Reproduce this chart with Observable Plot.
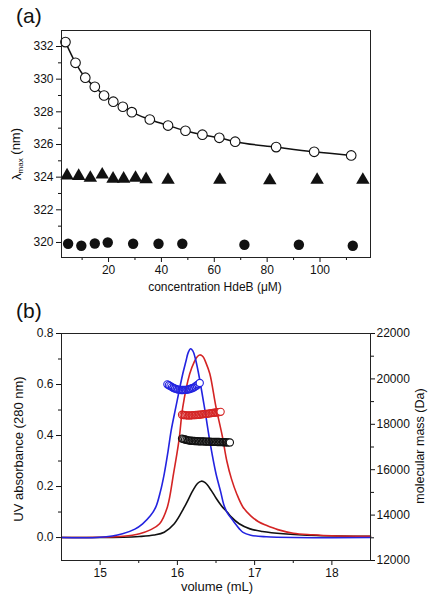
<!DOCTYPE html>
<html><head><meta charset="utf-8">
<script src="https://cdn.jsdelivr.net/npm/d3@7"></script>
<script src="https://cdn.jsdelivr.net/npm/@observablehq/plot@0.6"></script>
<style>
body{margin:0;background:#fff;font-family:"Liberation Sans",Arial,sans-serif;}
#wrap{position:relative;width:435px;height:600px;overflow:hidden;}
.panel{position:absolute;left:0;}
.tag{position:absolute;font-size:21px;line-height:1;color:#111;z-index:2;}
</style></head><body>
<div id="wrap">
<div class="panel" id="pa" style="top:0"></div>
<div class="panel" id="pb" style="top:300px"></div>
<div class="tag" style="left:16px;top:5px">(a)</div>
<div class="tag" style="left:16px;top:300px">(b)</div>
</div>
<script>
// ---------- Panel (a) data ----------
const concOpen = [3.7, 7.5, 11.2, 14.8, 18.3, 21.8, 25.4, 28.8, 35.6, 42.5, 49.1, 55.5, 61.9, 67.9, 83.4, 97.8, 111.8];
const lamOpen  = [332.27, 331.0, 330.09, 329.53, 329.0, 328.62, 328.31, 327.98, 327.53, 327.16, 326.84, 326.6, 326.41, 326.17, 325.84, 325.55, 325.33];
const concTri  = [4.3, 8.7, 13.1, 17.6, 21.7, 25.7, 30.2, 34.2, 42.5, 62.1, 81.0, 98.9, 116.2];
const lamTri   = [324.1, 324.07, 323.95, 324.15, 323.9, 323.9, 323.95, 323.87, 323.83, 323.83, 323.8, 323.83, 323.83];
const concFill = [4.7, 9.7, 14.8, 19.7, 29.3, 38.9, 47.9, 71.4, 92.0, 112.4];
const lamFill  = [319.92, 319.8, 319.94, 320.0, 319.92, 319.92, 319.92, 319.86, 319.86, 319.8];
const xTicksA = [20, 40, 60, 80, 100];
const xMinorA = [10, 30, 50, 70, 90, 110];
const yTicksA = [320, 322, 324, 326, 328, 330, 332];
const yMinorA = [321, 323, 325, 327, 329, 331];

// ---------- Panel (b) data ----------
const volBlue = [14.5, 15.0, 15.29, 15.45, 15.55, 15.65, 15.72, 15.78, 15.83, 15.88, 15.92, 15.98, 16.07, 16.11, 16.14, 16.17, 16.20, 16.23, 16.27, 16.35, 16.43, 16.50, 16.56, 16.60, 16.65, 16.70, 16.74, 16.80, 16.85, 16.95, 17.15, 17.5, 18.5];
const absBlue = [0.0, 0.001, 0.015, 0.033, 0.054, 0.085, 0.119, 0.18, 0.25, 0.34, 0.42, 0.511, 0.642, 0.69, 0.725, 0.74, 0.732, 0.705, 0.65, 0.511, 0.36, 0.25, 0.18, 0.13, 0.095, 0.075, 0.058, 0.035, 0.02, 0.009, 0.003, 0.0, 0.0];
const volRed = [14.5, 15.0, 15.30, 15.51, 15.65, 15.77, 15.87, 15.95, 16.02, 16.07, 16.16, 16.22, 16.26, 16.29, 16.33, 16.37, 16.42, 16.50, 16.58, 16.64, 16.70, 16.77, 16.85, 16.95, 17.05, 17.15, 17.30, 17.50, 17.75, 18.0, 18.5];
const absRed = [0.0, 0.001, 0.005, 0.015, 0.03, 0.054, 0.119, 0.25, 0.38, 0.511, 0.642, 0.69, 0.71, 0.716, 0.71, 0.685, 0.642, 0.511, 0.40, 0.30, 0.23, 0.17, 0.119, 0.085, 0.062, 0.048, 0.031, 0.017, 0.011, 0.007, 0.005];
const volBlack = [14.5, 15.3, 15.51, 15.70, 15.83, 15.96, 16.09, 16.20, 16.26, 16.31, 16.36, 16.44, 16.50, 16.57, 16.65, 16.70, 16.80, 16.94, 17.10, 17.37, 17.80, 18.5];
const absBlack = [0.0, 0.001, 0.004, 0.01, 0.021, 0.054, 0.119, 0.184, 0.212, 0.221, 0.215, 0.184, 0.155, 0.125, 0.098, 0.08, 0.054, 0.034, 0.024, 0.015, 0.008, 0.005];

const mVolBlue = [15.87, 15.89, 15.91, 15.93, 15.95, 15.97, 15.99, 16.01, 16.03, 16.05, 16.07, 16.09, 16.11, 16.13, 16.15, 16.17, 16.19, 16.21, 16.23, 16.25, 16.27, 16.29];
const massBlue = [19760, 19720, 19680, 19640, 19600, 19570, 19550, 19530, 19520, 19510, 19510, 19515, 19520, 19530, 19545, 19565, 19590, 19620, 19660, 19710, 19760, 19820];
const mVolRed = [16.06, 16.08, 16.10, 16.12, 16.14, 16.16, 16.18, 16.20, 16.22, 16.24, 16.26, 16.28, 16.30, 16.32, 16.34, 16.36, 16.38, 16.40, 16.42, 16.44, 16.46, 16.48, 16.50, 16.52, 16.54, 16.56];
const massRed = [18420, 18410, 18400, 18395, 18390, 18390, 18395, 18400, 18405, 18410, 18415, 18420, 18430, 18440, 18450, 18455, 18460, 18470, 18480, 18490, 18500, 18510, 18520, 18530, 18540, 18550];
const mVolBlack = [16.06, 16.08, 16.10, 16.12, 16.14, 16.16, 16.18, 16.20, 16.22, 16.24, 16.26, 16.28, 16.30, 16.32, 16.34, 16.36, 16.38, 16.40, 16.42, 16.44, 16.46, 16.48, 16.50, 16.52, 16.54, 16.56, 16.58, 16.60, 16.62, 16.64, 16.66, 16.68];
const massBlack = [17370, 17350, 17330, 17310, 17295, 17285, 17275, 17270, 17265, 17260, 17255, 17250, 17250, 17245, 17245, 17240, 17240, 17235, 17235, 17230, 17230, 17225, 17225, 17220, 17220, 17215, 17215, 17210, 17210, 17205, 17200, 17200];

const xTicksB = [15, 16, 17, 18];
const xMinorB = [15.5, 16.5, 17.5];
const yTicksB = [0.0, 0.2, 0.4, 0.6, 0.8];
const yMinorB = [0.1, 0.3, 0.5, 0.7];
const massTicks = [12000, 14000, 16000, 18000, 20000, 22000];
const massMinor = [13000, 15000, 17000, 19000, 21000];

const BLUE = "#2323e0", RED = "#d42424", INK = "#111";
const FONT = "'Liberation Sans', Arial, sans-serif";

const zipXY = (xs, ys) => xs.map((x, i) => ({x, y: ys[i]}));

// ---------- Panel (a) ----------
const openPts = zipXY(concOpen, lamOpen);
const triPts = zipXY(concTri, lamTri);
const fillPts = zipXY(concFill, lamFill);

const pa = Plot.plot({
  width: 435, height: 300,
  marginLeft: 61, marginRight: 65, marginTop: 30, marginBottom: 43,
  style: {fontFamily: FONT, fontSize: "12px", color: INK, background: "transparent"},
  x: {domain: [2.2, 119.1]},
  y: {domain: [319.08, 332.98]},
  marks: [
    Plot.axisX({ticks: xTicksA, tickSize: 5, tickPadding: 3, label: null, tickFormat: d => String(d)}),
    Plot.axisX({ticks: xMinorA, tickSize: 3, label: null, tickFormat: () => ""}),
    Plot.axisY({ticks: yTicksA, tickSize: 5, tickPadding: 3, label: null, tickFormat: d => String(d)}),
    Plot.axisY({ticks: yMinorA, tickSize: 3, label: null, tickFormat: () => ""}),
    Plot.line(openPts, {x: "x", y: "y", stroke: INK, strokeWidth: 1.5, curve: "monotone-x"}),
    Plot.dot(openPts, {x: "x", y: "y", r: 4.8, stroke: INK, strokeWidth: 1.1, fill: "white"}),
    Plot.dot(triPts, {x: "x", y: "y", r: 5.0, symbol: "triangle", fill: INK, stroke: "none"}),
    Plot.dot(fillPts, {x: "x", y: "y", r: 5.2, fill: INK, stroke: "none"}),
    Plot.frame({stroke: "#222", strokeWidth: 1})
  ]
});
document.getElementById("pa").append(pa);

// ---------- Panel (b) ----------
const yDomB = [-0.09, 0.8];
const massDom = [12000, 22000];
const toAbs = m => yDomB[0] + (m - massDom[0]) * (yDomB[1] - yDomB[0]) / (massDom[1] - massDom[0]);
const fromAbs = a => massDom[0] + (a - yDomB[0]) * (massDom[1] - massDom[0]) / (yDomB[1] - yDomB[0]);

const curveB = zipXY(volBlue, absBlue);
const curveR = zipXY(volRed, absRed);
const curveK = zipXY(volBlack, absBlack);
const massPts = (vs, ms) => vs.map((v, i) => ({x: v, y: toAbs(ms[i]), last: i === vs.length - 1}));
const mB = massPts(mVolBlue, massBlue);
const mR = massPts(mVolRed, massRed);
const mK = massPts(mVolBlack, massBlack);

const massDots = (pts, color) => [
  Plot.dot(pts.filter(d => !d.last), {x: "x", y: "y", r: 3.6, stroke: color, strokeWidth: 1.1, fill: "none"}),
  Plot.dot(pts.filter(d => d.last), {x: "x", y: "y", r: 3.6, stroke: color, strokeWidth: 1.1, fill: "white"})
];

const pb = Plot.plot({
  width: 435, height: 300,
  marginLeft: 61, marginRight: 65, marginTop: 33, marginBottom: 40,
  style: {fontFamily: FONT, fontSize: "12px", color: INK, background: "transparent"},
  x: {domain: [14.5, 18.5]},
  y: {domain: yDomB},
  marks: [
    Plot.axisX({ticks: xTicksB, tickSize: 5, tickPadding: 3, label: null, tickFormat: d => String(d)}),
    Plot.axisX({ticks: xMinorB, tickSize: 3, label: null, tickFormat: () => ""}),
    Plot.axisY({ticks: yTicksB, tickSize: 5, tickPadding: 3, label: null, tickFormat: d => d.toFixed(1)}),
    Plot.axisY({ticks: yMinorB, tickSize: 3, label: null, tickFormat: () => ""}),
    Plot.axisY({anchor: "right", ticks: massTicks.map(toAbs), tickSize: 4, tickPadding: 2, label: null, tickFormat: d => String(Math.round(fromAbs(d) / 1000) * 1000)}),
    Plot.axisY({anchor: "right", ticks: massMinor.map(toAbs), tickSize: 3, label: null, tickFormat: () => ""}),
    Plot.line(curveK, {x: "x", y: "y", stroke: INK, strokeWidth: 1.6, curve: "catmull-rom"}),
    Plot.line(curveR, {x: "x", y: "y", stroke: RED, strokeWidth: 1.6, curve: "catmull-rom"}),
    Plot.line(curveB, {x: "x", y: "y", stroke: BLUE, strokeWidth: 1.6, curve: "catmull-rom"}),
    ...massDots(mB, BLUE),
    ...massDots(mR, RED),
    ...massDots(mK, INK),
    Plot.frame({stroke: "#222", strokeWidth: 1})
  ]
});
document.getElementById("pb").append(pb);

// ---------- Axis titles ----------
function addText(svg, x, y, rot, parts, size) {
  const t = d3.select(svg).append("text")
    .attr("transform", `translate(${x},${y}) rotate(${rot})`)
    .attr("text-anchor", "middle")
    .attr("font-family", FONT)
    .attr("font-size", size)
    .attr("fill", INK);
  parts.forEach(p => {
    const s = t.append("tspan").text(p.t);
    if (p.sub) s.attr("font-size", size * 0.62).attr("dy", "0.3em");
    if (p.back) s.attr("dy", "-0.3em");
  });
  return t;
}
addText(pa, 215, 291, 0, [{t: "concentration HdeB (μM)"}], 12);
addText(pa, 21, 154, -90, [{t: "λ"}, {t: "max", sub: true}, {t: " (nm)", back: true}], 13);
addText(pb, 217, 291, 0, [{t: "volume (mL)"}], 13);
addText(pb, 23, 149, -90, [{t: "UV absorbance (280 nm)"}], 13);
addText(pb, 424, 146, -90, [{t: "molecular mass (Da)"}], 12.5);
</script>
</body></html>
